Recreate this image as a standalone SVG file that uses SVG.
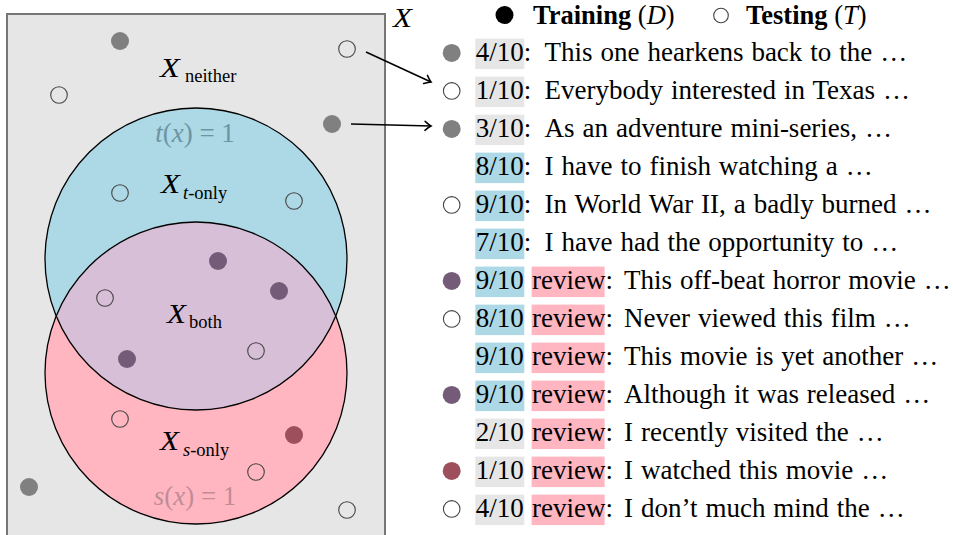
<svg xmlns="http://www.w3.org/2000/svg" width="953" height="535" viewBox="0 0 953 535">
<style>
.t{font-family:"Liberation Serif","DejaVu Serif",serif;font-size:27px;fill:#000}
.lg{font-size:26.5px}
.w{word-spacing:1.2px}
.b{font-weight:bold}
.i{font-style:italic}
.mx{font-family:"Liberation Serif","DejaVu Serif",serif;font-size:27px;font-style:italic;fill:#000}
.sub{font-family:"Liberation Serif","DejaVu Serif",serif;font-size:18.5px;fill:#000}
.open{fill:none;stroke:#444;stroke-width:1.1}
.gry{fill:#808080}
.pur{fill:#745c79}
.red{fill:#9d505c}
.bg{fill:#e6e6e6}
.bl{fill:#add8e6}
.pk{fill:#ffb6c1}
.edge{fill:none;stroke:#000;stroke-width:1.3}
.conn{fill:none;stroke:#000;stroke-width:1.6}
</style>
<defs>
<marker id="arr" viewBox="-8 -6 10 12" markerWidth="10" markerHeight="12" refX="0" refY="0" orient="auto" markerUnits="userSpaceOnUse">
<path d="M -6 -4.5 Q -2 -1 0 0 Q -2 1 -6 4.5" fill="none" stroke="#000" stroke-width="1.5" stroke-linecap="round"/>
</marker>
</defs>
<rect width="953" height="535" fill="#fff"/>

<g id="space">
<rect x="7" y="14" width="378" height="530" class="bg" stroke="#767676" stroke-width="2"/>
<text transform="translate(393,27) scale(1.15,1)" class="mx">X</text>
</g>

<g id="sets">
<circle cx="196" cy="259" r="151" class="bl"/>
<circle cx="196" cy="373" r="151" class="pk"/>
<path d="M 56.2 316 A 151 151 0 0 1 335.8 316 A 151 151 0 0 1 56.2 316 Z" fill="#d8bfd8"/>
<circle cx="196" cy="259" r="151" class="edge"/>
<circle cx="196" cy="373" r="151" class="edge"/>
</g>

<g id="labels">
<text transform="translate(160,77) scale(1.2,1)" class="mx">X</text><text x="185" y="82" class="sub">neither</text>
<text x="195" y="142" text-anchor="middle" class="t" style="fill:#6b95a3"><tspan class="i">t</tspan>(<tspan class="i">x</tspan>) = 1</text>
<text transform="translate(161,193) scale(1.15,1)" class="mx">X</text><text x="183" y="199" class="sub"><tspan font-style="italic">t</tspan>-only</text>
<text transform="translate(167,323) scale(1.15,1)" class="mx">X</text><text x="189" y="328" class="sub">both</text>
<text transform="translate(160,450) scale(1.15,1)" class="mx">X</text><text x="183" y="456" class="sub"><tspan font-style="italic">s</tspan>-only</text>
<text x="195" y="505" text-anchor="middle" class="t" style="fill:#c08c96"><tspan class="i">s</tspan>(<tspan class="i">x</tspan>) = 1</text>
</g>

<g id="points">
<circle cx="120" cy="41" r="9" class="gry"/>
<circle cx="347" cy="49" r="8.3" class="open"/>
<circle cx="59" cy="95" r="8.3" class="open"/>
<circle cx="332" cy="124" r="9" class="gry"/>
<circle cx="120" cy="193" r="8.3" class="open"/>
<circle cx="294" cy="201" r="8.3" class="open"/>
<circle cx="218" cy="261" r="9" class="pur"/>
<circle cx="279" cy="291" r="9" class="pur"/>
<circle cx="105" cy="298" r="8.3" class="open"/>
<circle cx="127" cy="359" r="9" class="pur"/>
<circle cx="256" cy="351" r="8.3" class="open"/>
<circle cx="120" cy="419" r="8.3" class="open"/>
<circle cx="294" cy="435" r="9" class="red"/>
<circle cx="256" cy="472" r="8.3" class="open"/>
<circle cx="29" cy="487" r="9" class="gry"/>
<circle cx="347" cy="510" r="8.3" class="open"/>
</g>

<g id="connectors">
<line x1="366" y1="52" x2="431" y2="82" class="conn" marker-end="url(#arr)"/>
<line x1="351" y1="124" x2="431" y2="126" class="conn" marker-end="url(#arr)"/>
</g>

<g id="legend">
<circle cx="504.5" cy="15" r="9" fill="#000"/>
<text x="533" y="23.5" class="t lg"><tspan class="b">Training</tspan> (<tspan class="i">D</tspan>)</text>
<circle cx="721" cy="15.5" r="7.3" class="open"/>
<text x="746" y="23.5" class="t lg"><tspan class="b">Testing</tspan> (<tspan class="i">T</tspan>)</text>
</g>

<g id="row1" transform="translate(0,38.6)">
<circle cx="451.7" cy="14.3" r="9" class="gry"/>
<rect x="475.3" y="0" width="49" height="30.5" class="bg"/>
<text x="475.8" y="22.5" class="t">4/10:</text><text x="544.6" y="22.5" class="t w">This one hearkens back to the …</text>
</g>
<g id="row2" transform="translate(0,76.6)">
<circle cx="451.7" cy="14.3" r="8.3" class="open"/>
<rect x="475.3" y="0" width="49" height="30.5" class="bg"/>
<text x="475.8" y="22.5" class="t">1/10:</text><text x="544.6" y="22.5" class="t w">Everybody interested in Texas …</text>
</g>
<g id="row3" transform="translate(0,114.6)">
<circle cx="451.7" cy="14.3" r="9" class="gry"/>
<rect x="475.3" y="0" width="49" height="30.5" class="bg"/>
<text x="475.8" y="22.5" class="t">3/10:</text><text x="544.6" y="22.5" class="t w">As an adventure mini-series, …</text>
</g>
<g id="row4" transform="translate(0,152.6)">
<rect x="475.3" y="0" width="49" height="30.5" class="bl"/>
<text x="475.8" y="22.5" class="t">8/10:</text><text x="544.6" y="22.5" class="t w">I have to finish watching a …</text>
</g>
<g id="row5" transform="translate(0,190.6)">
<circle cx="451.7" cy="14.3" r="8.3" class="open"/>
<rect x="475.3" y="0" width="49" height="30.5" class="bl"/>
<text x="475.8" y="22.5" class="t">9/10:</text><text x="544.6" y="22.5" class="t w">In World War II, a badly burned …</text>
</g>
<g id="row6" transform="translate(0,228.6)">
<rect x="475.3" y="0" width="49" height="30.5" class="bl"/>
<text x="475.8" y="22.5" class="t">7/10:</text><text x="544.6" y="22.5" class="t w">I have had the opportunity to …</text>
</g>
<g id="row7" transform="translate(0,266.6)">
<circle cx="451.7" cy="14.3" r="9" class="pur"/>
<rect x="475.3" y="0" width="49" height="30.5" class="bl"/>
<rect x="531.6" y="0" width="73" height="30.5" class="pk"/>
<text x="475.8" y="22.5" class="t">9/10</text><text x="532" y="22.5" class="t">review:</text><text x="624" y="22.5" class="t w">This off-beat horror movie …</text>
</g>
<g id="row8" transform="translate(0,304.6)">
<circle cx="451.7" cy="14.3" r="8.3" class="open"/>
<rect x="475.3" y="0" width="49" height="30.5" class="bl"/>
<rect x="531.6" y="0" width="73" height="30.5" class="pk"/>
<text x="475.8" y="22.5" class="t">8/10</text><text x="532" y="22.5" class="t">review:</text><text x="624" y="22.5" class="t w">Never viewed this film …</text>
</g>
<g id="row9" transform="translate(0,342.6)">
<rect x="475.3" y="0" width="49" height="30.5" class="bl"/>
<rect x="531.6" y="0" width="73" height="30.5" class="pk"/>
<text x="475.8" y="22.5" class="t">9/10</text><text x="532" y="22.5" class="t">review:</text><text x="624" y="22.5" class="t w">This movie is yet another …</text>
</g>
<g id="row10" transform="translate(0,380.6)">
<circle cx="451.7" cy="14.3" r="9" class="pur"/>
<rect x="475.3" y="0" width="49" height="30.5" class="bl"/>
<rect x="531.6" y="0" width="73" height="30.5" class="pk"/>
<text x="475.8" y="22.5" class="t">9/10</text><text x="532" y="22.5" class="t">review:</text><text x="624" y="22.5" class="t w">Although it was released …</text>
</g>
<g id="row11" transform="translate(0,418.6)">
<rect x="475.3" y="0" width="49" height="30.5" class="bg"/>
<rect x="531.6" y="0" width="73" height="30.5" class="pk"/>
<text x="475.8" y="22.5" class="t">2/10</text><text x="532" y="22.5" class="t">review:</text><text x="624" y="22.5" class="t w">I recently visited the …</text>
</g>
<g id="row12" transform="translate(0,456.6)">
<circle cx="451.7" cy="14.3" r="9" class="red"/>
<rect x="475.3" y="0" width="49" height="30.5" class="bg"/>
<rect x="531.6" y="0" width="73" height="30.5" class="pk"/>
<text x="475.8" y="22.5" class="t">1/10</text><text x="532" y="22.5" class="t">review:</text><text x="624" y="22.5" class="t w">I watched this movie …</text>
</g>
<g id="row13" transform="translate(0,494.6)">
<circle cx="451.7" cy="14.3" r="8.3" class="open"/>
<rect x="475.3" y="0" width="49" height="30.5" class="bg"/>
<rect x="531.6" y="0" width="73" height="30.5" class="pk"/>
<text x="475.8" y="22.5" class="t">4/10</text><text x="532" y="22.5" class="t">review:</text><text x="624" y="22.5" class="t w">I don’t much mind the …</text>
</g>
</svg>
